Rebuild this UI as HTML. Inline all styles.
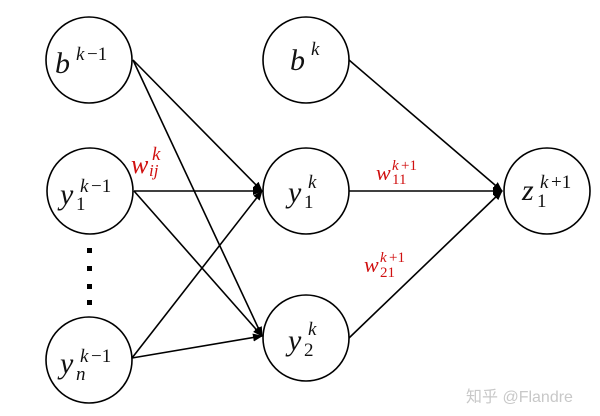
<!DOCTYPE html>
<html><head><meta charset="utf-8"><style>
html,body{margin:0;padding:0;background:#fff;}
svg{display:block;}
.m{font-family:"Liberation Serif",serif;font-style:italic;font-size:30px;fill:#111;}
.s{font-family:"Liberation Serif",serif;font-style:italic;font-size:19px;fill:#111;}
.n{font-family:"Liberation Serif",serif;font-size:19px;fill:#111;}
.r{fill:#d01010;}
</style></head><body>
<svg width="600" height="416" viewBox="0 0 600 416" xmlns="http://www.w3.org/2000/svg">
<defs><marker id="a" markerWidth="10" markerHeight="8" refX="9" refY="4" orient="auto" markerUnits="userSpaceOnUse"><path d="M0,0 L10,4 L0,8 z" fill="#000"/></marker></defs>
<g stroke="#000" stroke-width="1.6" fill="none">
<ellipse cx="89" cy="60" rx="43" ry="43"/>
<ellipse cx="90" cy="191" rx="43" ry="43"/>
<ellipse cx="89" cy="360" rx="43" ry="43"/>
<ellipse cx="306" cy="60" rx="43" ry="43"/>
<ellipse cx="306" cy="191" rx="43" ry="43"/>
<ellipse cx="306" cy="338" rx="43" ry="43"/>
<ellipse cx="547" cy="191" rx="43" ry="43"/>
</g>
<g stroke="#000" stroke-width="1.6" marker-end="url(#a)">
<line x1="133" y1="60" x2="262" y2="191"/>
<line x1="133" y1="60" x2="262" y2="336"/>
<line x1="134" y1="191" x2="262" y2="191"/>
<line x1="134" y1="191" x2="262" y2="336"/>
<line x1="132" y1="358" x2="262" y2="191"/>
<line x1="132" y1="358" x2="262" y2="336"/>
<line x1="349" y1="60" x2="502" y2="191"/>
<line x1="349" y1="191" x2="502" y2="191"/>
<line x1="349" y1="338" x2="502" y2="191"/>
</g>
<g fill="#000"><rect x="87" y="248" width="5" height="5"/><rect x="87" y="266" width="5" height="5"/><rect x="87" y="284" width="5" height="5"/><rect x="87" y="300" width="5" height="5"/></g>
<text class="m" x="55" y="73">b</text><text class="s" x="76" y="60">k</text><text class="n" x="87" y="60">−1</text>
<text class="m" x="60" y="204">y</text><text class="s" x="80" y="192">k</text><text class="n" x="91" y="192">−1</text><text class="n" x="76" y="210">1</text>
<text class="m" x="60" y="373">y</text><text class="s" x="80" y="362">k</text><text class="n" x="91" y="362">−1</text><text class="s" x="76" y="380">n</text>
<text class="m" x="290" y="70">b</text><text class="s" x="311" y="55">k</text>
<text class="m" x="288" y="202">y</text><text class="s" x="308" y="188">k</text><text class="n" x="304" y="208">1</text>
<text class="m" x="288" y="350">y</text><text class="s" x="308" y="335">k</text><text class="n" x="304" y="356">2</text>
<text class="m" x="522" y="200">z</text><text class="s" x="540" y="188">k</text><text class="n" x="551" y="188">+1</text><text class="n" x="537" y="207">1</text>
<text class="m r" x="131" y="173" style="font-size:26px">w</text><text class="s r" x="152" y="160">k</text><text class="s r" x="149" y="176" style="font-size:17px">ij</text>
<text class="m r" x="376" y="180" style="font-size:22px">w</text><text class="s r" x="392" y="170" style="font-size:15px">k</text><text class="n r" x="401" y="170" style="font-size:15px">+1</text><text class="n r" x="392" y="184" style="font-size:15px">11</text>
<text class="m r" x="364" y="272" style="font-size:22px">w</text><text class="s r" x="380" y="262" style="font-size:15px">k</text><text class="n r" x="389" y="262" style="font-size:15px">+1</text><text class="n r" x="380" y="277" style="font-size:15px">21</text>
<text x="466" y="402" style="font-family:'Liberation Sans','Noto Sans CJK SC',sans-serif;font-size:16px;fill:#c8c8c8">知乎 @Flandre</text>
</svg>
</body></html>
